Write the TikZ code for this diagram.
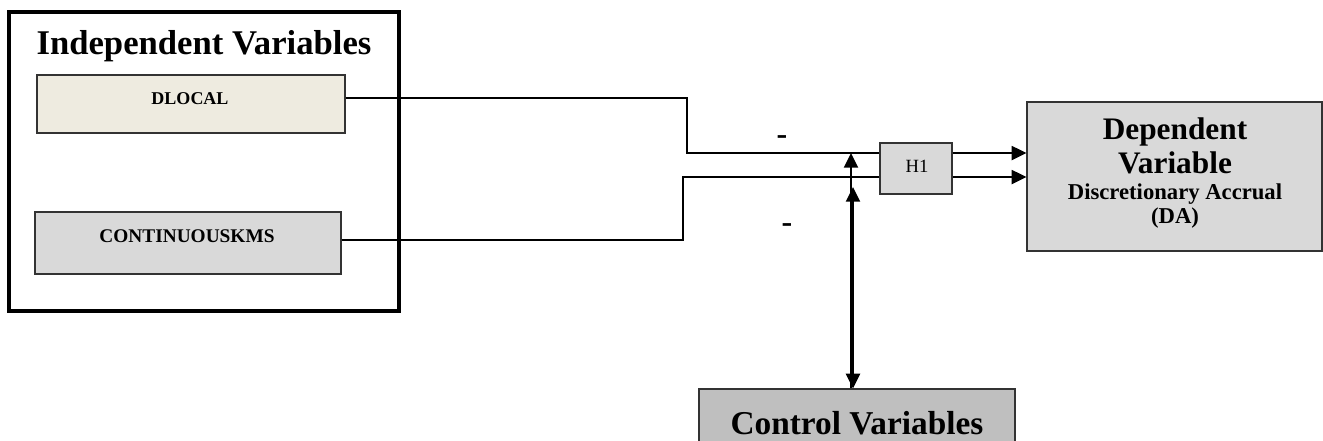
\documentclass[tikz,border=0pt]{standalone}
\usepackage{fontspec}
\setmainfont{Liberation Serif}
\usetikzlibrary{arrows.meta}
\definecolor{dlocfill}{HTML}{EEEBE0}
\definecolor{greyfill}{HTML}{D9D9D9}
\definecolor{ctrlfill}{HTML}{BFBFBF}
\begin{document}
\begin{tikzpicture}[x=0.75pt,y=-0.75pt,
  box/.style={draw=black!80, line width=0.9pt, inner sep=0pt},
  conn/.style={line width=1.5pt, black},
  arr/.style={conn, -{Triangle[length=11pt,width=10.5pt]}},
  darr/.style={conn, {Triangle[length=11pt,width=10.5pt]}-{Triangle[length=11pt,width=10.5pt]}},
  lbl/.style={inner sep=0pt, anchor=base, font=\bfseries}]
\useasboundingbox (0,0) rectangle (1323,441);
% boxes
\node[draw=black, line width=3pt, minimum width=292.5pt, minimum height=224.25pt, inner sep=0pt] (outer) at (204,161.5) {};
\node[box, fill=dlocfill, minimum width=231pt, minimum height=43.5pt] (dlocal) at (191,104) {};
\node[box, fill=greyfill, minimum width=229.5pt, minimum height=46.5pt] (cont) at (188,243) {};
\node[box, fill=greyfill, minimum width=54pt, minimum height=38.25pt] (h1) at (916,168.5) {};
\node[box, fill=greyfill, minimum width=221.25pt, minimum height=111.75pt] (dep) at (1174.5,176.5) {};
\node[box, fill=ctrlfill, minimum width=237pt, minimum height=42pt] (ctrl) at (857,417) {};
% texts
\node[lbl, font=\bfseries\fontsize{26}{30}\selectfont] (tind) at (204,55) {Independent Variables};
\node[lbl, font=\bfseries\fontsize{13.5}{15}\selectfont] (tdl) at (190,105) {DLOCAL};
\node[lbl, font=\bfseries\fontsize{14.5}{16}\selectfont] (tck) at (187,243) {CONTINUOUSKMS};
\node[lbl, font=\fontsize{14}{16}\selectfont] (th1) at (917,173) {H1};
\node[lbl, font=\bfseries\fontsize{23.5}{26}\selectfont] (td1) at (1175,140) {Dependent};
\node[lbl, font=\bfseries\fontsize{23.5}{26}\selectfont] (td2) at (1175,174) {Variable};
\node[lbl, font=\bfseries\fontsize{17}{19}\selectfont] (td3) at (1175,200) {Discretionary Accrual};
\node[lbl, font=\bfseries\fontsize{17}{19}\selectfont] (td4) at (1175,224) {(DA)};
\node[lbl, font=\bfseries\fontsize{25}{28}\selectfont] (tctrl) at (857,434) {Control Variables};
\node[lbl, font=\bfseries\fontsize{24}{26}\selectfont] (m1) at (782,145) {-};
\node[lbl, font=\bfseries\fontsize{24}{26}\selectfont] (m2) at (787,233) {-};
% connectors
\coordinate (b1) at (687,153);
\coordinate (b2) at (683,177);
\draw[conn] ([yshift=4.5pt]dlocal.east) -| (b1) -- (b1 -| h1.west);
\draw[conn] ([yshift=2.25pt]cont.east) -| (b2) -- (b2 -| h1.west);
\coordinate (a1) at ([yshift=11.6pt]h1.east);
\coordinate (a2) at ([yshift=-6.4pt]h1.east);
\draw[arr] (a1) -- (a1 -| dep.west);
\draw[arr] (a2) -- (a2 -| dep.west);
\coordinate (j1) at (851,153);
\coordinate (j2) at (853,187);
\draw[arr] (ctrl.north -| j1) -- (j1);
\draw[darr] (ctrl.north -| j2) -- (j2);
\end{tikzpicture}
\end{document}
